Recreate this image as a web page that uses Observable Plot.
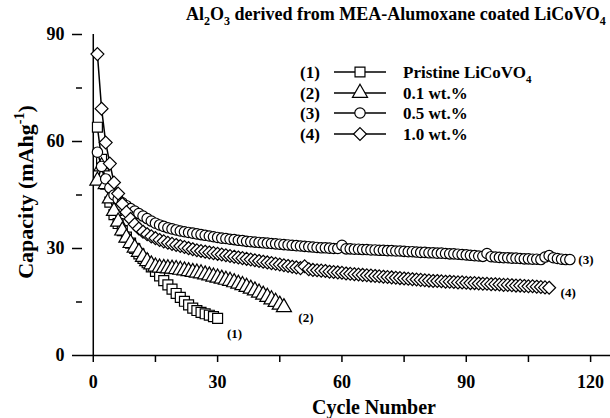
<!DOCTYPE html>
<html><head><meta charset="utf-8">
<script src="https://cdn.jsdelivr.net/npm/d3@7"></script>
<script src="https://cdn.jsdelivr.net/npm/@observablehq/plot@0.6"></script>
<style>body{margin:0;background:#fff}#chart{width:610px;height:418px}</style>
</head><body><div id="chart"></div>
<script>
// ---- data ----
const seriesIds = ["(1)", "(2)", "(3)", "(4)"];
const legendNames = ["Pristine LiCoVO", "0.1 wt.%", "0.5 wt.%", "1.0 wt.%"];
const legendSubs = ["4", "", "", ""];
const seriesSymbols = ["square", "triangle", "circle", "diamond2"];

const pristine = [64, 55, 48, 43, 39.5, 37, 35, 33.2, 31.5, 30, 28.5, 27.2, 26, 24.8, 23.6, 22.3, 21, 19.8, 18.6, 17.4,
  16.3, 15.2, 14.2, 13.3, 12.6, 12.1, 11.7, 11.3, 10.9, 10.4];
const wt01 = [49, 53, 48, 44, 40.5, 37.5, 35, 33, 31.5, 30.2,
  29, 27.6, 26.4, 25.5, 24.9, 24.6, 24.5, 24.4, 24.3, 24.2,
  24, 23.8, 23.6, 23.4, 23.2, 23, 22.7, 22.4, 22.1, 21.8,
  21.5, 21.2, 20.9, 20.5, 20.1, 19.7, 19.2, 18.7, 18.2, 17.6,
  17, 16.4, 15.7, 15, 14.2, 13.5];
const wt05 = [57, 53, 49.5, 47, 45, 43.8, 42.8, 42, 41.2, 40.5,
  39.8, 39.1, 38.4, 37.7, 37.1, 36.6, 36.2, 35.8, 35.5, 35.2,
  34.9, 34.7, 34.5, 34.3, 34.1, 33.9, 33.7, 33.5, 33.3, 33.1,
  32.9, 32.8, 32.6, 32.5, 32.3, 32.2, 32.0, 31.9, 31.8, 31.7,
  31.6, 31.5, 31.4, 31.3, 31.2, 31.1, 31.0, 30.9, 30.8, 30.7,
  30.6, 30.5, 30.4, 30.3, 30.2, 30.2, 30.1, 30.0, 30.0, 30.9,
  29.9, 29.9, 29.8, 29.8, 29.7, 29.7, 29.6, 29.6, 29.5, 29.5,
  29.4, 29.4, 29.3, 29.3, 29.2, 29.1, 29.1, 29.0, 28.9, 28.9,
  28.8, 28.8, 28.7, 28.7, 28.6, 28.5, 28.5, 28.4, 28.3, 28.2,
  28.1, 28.0, 27.9, 27.8, 28.6, 27.7, 27.6, 27.5, 27.4, 27.4,
  27.3, 27.3, 27.2, 27.1, 27.1, 27.0, 27.0, 26.9, 27.6, 28.0,
  27.4, 27.2, 27.0, 26.9, 26.9];
const wt10 = [84.5, 69.2, 59.7, 53.8, 48.5, 45.4, 42.5, 40.2, 38.3, 36.8,
  35.6, 34.7, 34.0, 33.4, 32.9, 32.4, 32.0, 31.6, 31.3, 31.0,
  30.7, 30.4, 30.1, 29.8, 29.5, 29.3, 29.1, 28.9, 28.7, 28.5,
  28.3, 28.1, 27.9, 27.7, 27.5, 27.3, 27.1, 26.9, 26.7, 26.5,
  26.3, 26.1, 25.9, 25.7, 25.5, 25.3, 25.1, 24.9, 24.7, 24.5,
  25.0, 24.2, 24.0, 23.9, 23.8, 23.7, 23.5, 23.4, 23.3, 23.2,
  23.0, 22.9, 22.8, 22.7, 22.6, 22.5, 22.4, 22.3, 22.2, 22.1,
  22.0, 21.9, 21.8, 21.7, 21.6, 21.5, 21.4, 21.3, 21.2, 21.1,
  21.0, 20.9, 20.9, 20.8, 20.7, 20.7, 20.6, 20.5, 20.5, 20.4,
  20.3, 20.3, 20.2, 20.1, 20.1, 20.0, 20.0, 19.9, 19.8, 19.8,
  19.7, 19.6, 19.6, 19.5, 19.4, 19.4, 19.3, 19.2, 19.1, 19.0];

const xTicks = [0, 30, 60, 90, 120];
const xMinorTicks = [15, 45, 75, 105];
const yTicks = [0, 30, 60, 90];
const yMinorTicks = [15, 45, 75];

// ---- build ----
const FONT = "'Liberation Serif', 'Times New Roman', serif";
const allSeries = [pristine, wt01, wt05, wt10];
const symbolR = [5.6, 5.6, 5.2, 5.8];
const endLabelOffsets = [[17, 15], [22, 10], [16, 0], [19, 5]];

const marks = [
  Plot.ruleY([0], {strokeWidth: 1.5}),
  Plot.ruleX([0], {y1: 0, y2: 90, strokeWidth: 1.5}),
  Plot.axisX(xTicks, {tickSize: 7, tickPadding: 13, label: null, strokeWidth: 1.5, fontSize: 18, fontWeight: "bold"}),
  Plot.axisX(xMinorTicks, {tickSize: 7, tickFormat: () => "", label: null, strokeWidth: 1.5}),
  Plot.axisY(yTicks, {tickSize: 10, tickPadding: 8, label: null, strokeWidth: 1.5, fontSize: 18, fontWeight: "bold"}),
  Plot.axisY(yMinorTicks, {tickSize: 6, tickFormat: () => "", label: null, strokeWidth: 1.5})
];

allSeries.forEach((vals, k) => {
  const data = vals.map((v, i) => ({cycle: i + 1, cap: v}));
  marks.push(Plot.line(data, {x: "cycle", y: "cap", stroke: "black", strokeWidth: 1.5}));
  marks.push(Plot.dot(data, {x: "cycle", y: "cap", symbol: seriesSymbols[k], r: symbolR[k], fill: "white", stroke: "black", strokeWidth: 1.2}));
  const last = data[data.length - 1];
  marks.push(Plot.text([last], {x: "cycle", y: "cap", text: () => seriesIds[k], dx: endLabelOffsets[k][0], dy: endLabelOffsets[k][1],
    fontSize: 13, fontWeight: "bold", fill: "black"}));
});

const chart = Plot.plot({
  width: 610, height: 418,
  marginLeft: 82, marginRight: 0, marginTop: 34, marginBottom: 63,
  x: {domain: [-2.6, 124.8]},
  y: {domain: [0, 90]},
  style: {fontFamily: FONT, fontSize: "17px", fontWeight: "bold", color: "black", background: "white"},
  marks
});
document.getElementById("chart").appendChild(chart);

// ---- titles & legend ----
const svg = d3.select(chart);
const g = svg.append("g").attr("font-family", FONT).attr("font-weight", "bold")
  .attr("fill", "black").attr("text-anchor", "start");

// title
const title = g.append("text").attr("x", 186).attr("y", 20).attr("font-size", 18);
title.append("tspan").text("Al");
title.append("tspan").text("2").attr("font-size", 12).attr("dy", 5);
title.append("tspan").text("O").attr("dy", -5);
title.append("tspan").text("3").attr("font-size", 12).attr("dy", 5);
title.append("tspan").text(" derived from MEA-Alumoxane coated LiCoVO").attr("dy", -5);
title.append("tspan").text("4").attr("font-size", 12).attr("dy", 5);

// x axis title
g.append("text").attr("x", 374).attr("y", 414).attr("text-anchor", "middle").attr("font-size", 20).text("Cycle Number");

// y axis title
const yt = g.append("text").attr("transform", "translate(33,192) rotate(-90)").attr("text-anchor", "middle").attr("font-size", 22);
yt.append("tspan").text("Capacity (mAhg");
yt.append("tspan").text("-1").attr("font-size", 14).attr("dy", -9);
yt.append("tspan").text(")").attr("dy", 9);

// legend
const rowsY = [72, 93, 113, 134];
const typeMap = {square: d3.symbolSquare, triangle: d3.symbolTriangle, circle: d3.symbolCircle, diamond2: d3.symbolDiamond2};
seriesIds.forEach((id, k) => {
  const y = rowsY[k];
  g.append("text").attr("x", 300).attr("y", y + 6).attr("font-size", 17).text(id);
  g.append("line").attr("x1", 334).attr("x2", 386).attr("y1", y).attr("y2", y).attr("stroke", "black").attr("stroke-width", 1.5);
  g.append("path").attr("transform", `translate(360,${y})`)
    .attr("d", d3.symbol(typeMap[seriesSymbols[k]], Math.PI * symbolR[k] * symbolR[k])())
    .attr("fill", "white").attr("stroke", "black").attr("stroke-width", 1.2);
  const t = g.append("text").attr("x", 403).attr("y", y + 6).attr("font-size", 17);
  t.append("tspan").text(legendNames[k]);
  if (legendSubs[k]) t.append("tspan").text(legendSubs[k]).attr("font-size", 11).attr("dy", 5);
});
</script>
</body></html>
